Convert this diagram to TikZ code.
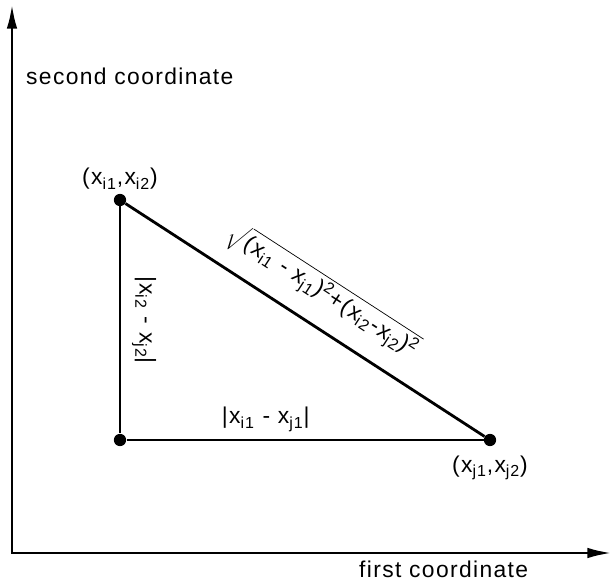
\documentclass[tikz,border=0pt]{standalone}
\usepackage{fontspec}
\setmainfont[LetterSpace=6]{Liberation Sans}
\usepackage{tikz}
\usetikzlibrary{positioning,arrows.meta}

\newcommand{\cx}[1]{x\textsubscript{#1}}

\begin{document}
\begin{tikzpicture}[
    x=0.02cm,y=-0.02cm,
    font=\fontsize{13}{15}\selectfont,
    axis/.style={line width=1.7pt,{Latex[length=14pt,width=6pt]}-{Latex[length=14pt,width=6pt]}},
    edge/.style={line width=1.6pt},
    pt/.style={circle,fill=black,inner sep=0pt,minimum size=7pt},
    lbl/.style={inner sep=1pt}
  ]
    \useasboundingbox (0,0) rectangle (613,588);
    % axes
    \coordinate (ytop) at (12,4);
    \coordinate (xend) at (612,553);
    \draw[axis] (ytop) |- (xend);
    \node[anchor=base west] (ylab) at (20,85) {second coordinate};
    \node[anchor=base west] (xlab) at (353,578) {first coordinate};
    % points
    \node[pt] (pi) at (120,200) {};
    \node[pt] (pc) at (120,440) {};
    \node[pt] (pj) at (490,440) {};
    \node[lbl,above=1pt of pi] (li) {(\cx{i1},\cx{i2})};
    \node[lbl,below=4pt of pj] (lj) {(\cx{j1},\cx{j2})};
    % triangle
    \draw[edge] (pi) -- node[lbl,sloped,above=5pt,pos=0.5] {|\cx{i2} - \cx{j2}|} (pc);
    \draw[edge] (pc) -- node[lbl,above=3pt,pos=0.39] {|\cx{i1} - \cx{j1}|} (pj);
    \draw[edge] (pi) -- node[lbl,sloped,above=8pt,pos=0.5]
      {$\sqrt{\mbox{(\cx{i1} - \cx{j1})\textsuperscript{2}+(\cx{i2}-\cx{j2})\textsuperscript{2}}}$} (pj);
  \end{tikzpicture}
\end{document}
